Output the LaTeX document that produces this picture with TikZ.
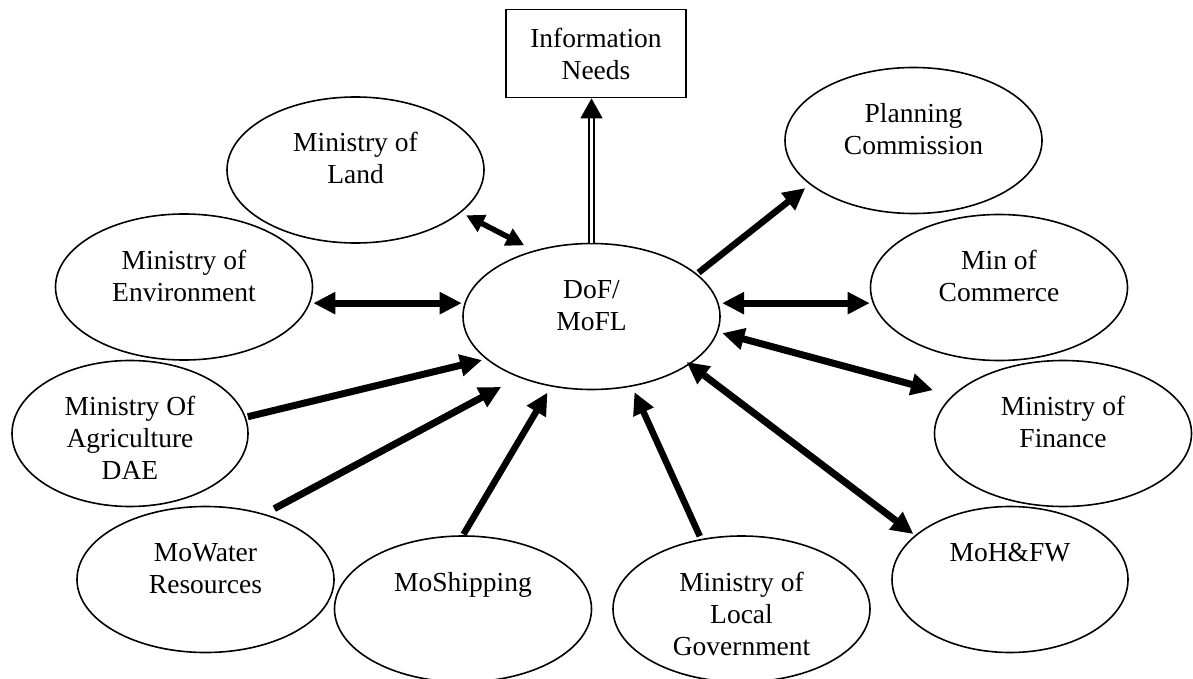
\documentclass[tikz,border=0pt]{standalone}
\usepackage{fontspec}
\setmainfont{Liberation Serif}
\usetikzlibrary{arrows.meta,shapes.geometric}

% text starts near the top of each ellipse
\newcommand{\toptext}[1]{\smash{\raisebox{18pt}{\makebox[0pt]{\parbox[t]{240pt}{\centering #1}}}}}

\begin{document}
\begin{tikzpicture}[x=1pt, y=-1pt,
	every node/.style={font=\fontsize{27.5}{32}\selectfont},
	ministry/.style={ellipse, draw, line width=1.6pt, inner sep=0pt, minimum width=257pt, minimum height=146pt},
	infobox/.style={rectangle, draw, line width=1.8pt, align=center, minimum width=180pt, minimum height=88pt},
	oneway/.style={line width=7pt, >={Triangle[length=22pt,width=21pt]}, ->},
	twoway/.style={line width=7pt, >={Triangle[length=22pt,width=21pt]}, <->}]

	\useasboundingbox (0,0) rectangle (1193,679);

	% Ministries

	\node [infobox] (info) at (596, 53.5) {Information\\Needs};
	\node [ministry] (dof) at (591.5, 316.5) {\toptext{DoF/\\MoFL}};

	\node [ministry] (land) at (355.5, 170) {\toptext{Ministry of\\Land}};
	\node [ministry] (env) at (184, 287) {\toptext{Ministry of\\Environment}};
	\node [ministry, minimum width=236pt] (agri) at (130, 433.5) {\toptext{Ministry Of\\Agriculture\\DAE}};
	\node [ministry] (water) at (205.5, 579.5) {\toptext{MoWater\\Resources}};
	\node [ministry] (ship) at (463, 609) {\toptext{MoShipping}};
	\node [ministry] (lgov) at (741.5, 609) {\toptext{Ministry of\\Local\\Government}};

	\node [ministry] (plan) at (913.5, 140.5) {\toptext{Planning\\Commission}};
	\node [ministry] (comm) at (999, 287.5) {\toptext{Min of\\Commerce}};
	\node [ministry] (fin) at (1063, 433.5) {\toptext{Ministry of\\Finance}};
	\node [ministry, minimum width=236pt] (health) at (1010, 579.5) {\toptext{MoH\&FW}};

	% Links

	\draw [double, double distance=3pt, line width=1.6pt, -{Triangle[length=20pt,width=22pt]}] (dof.north) -- (dof.north |- info.south);

	\draw [twoway, line width=5.5pt, >={Triangle[length=18pt,width=18pt]}, shorten <=5.7pt, shorten >=11pt] (land.-22) -- (dof.131);
	\draw [twoway, shorten >=2.6pt] (env.east |- dof.174) -- (dof.174);
	\draw [oneway, shorten <=2pt, shorten >=4pt] (agri.8.7) -- (dof.202);
	\draw [oneway, shorten <=11pt, shorten >=20pt] (water.48.7) -- (dof.220.4);
	\draw [oneway, line width=6.5pt, shorten <=1pt, shorten >=7pt] (ship.90) -- (dof.240);
	\draw [oneway, line width=6.5pt, shorten <=3pt, shorten >=6pt] (lgov.120.6) -- (dof.-60.2);

	\draw [oneway, line width=6.5pt, shorten <=2pt, shorten >=5.7pt] (dof.22) -- (plan.203.4);
	\draw [twoway, shorten <=3.4pt] (dof.6) -- (dof.6 -| comm.west);
	\draw [twoway, shorten <=4.5pt, shorten >=20pt] (dof.-7) -- (fin.161);
	\draw [twoway, shorten <=-4pt, shorten >=2pt] (dof.-26.6) -- (health.155.4);

\end{tikzpicture}
\end{document}
